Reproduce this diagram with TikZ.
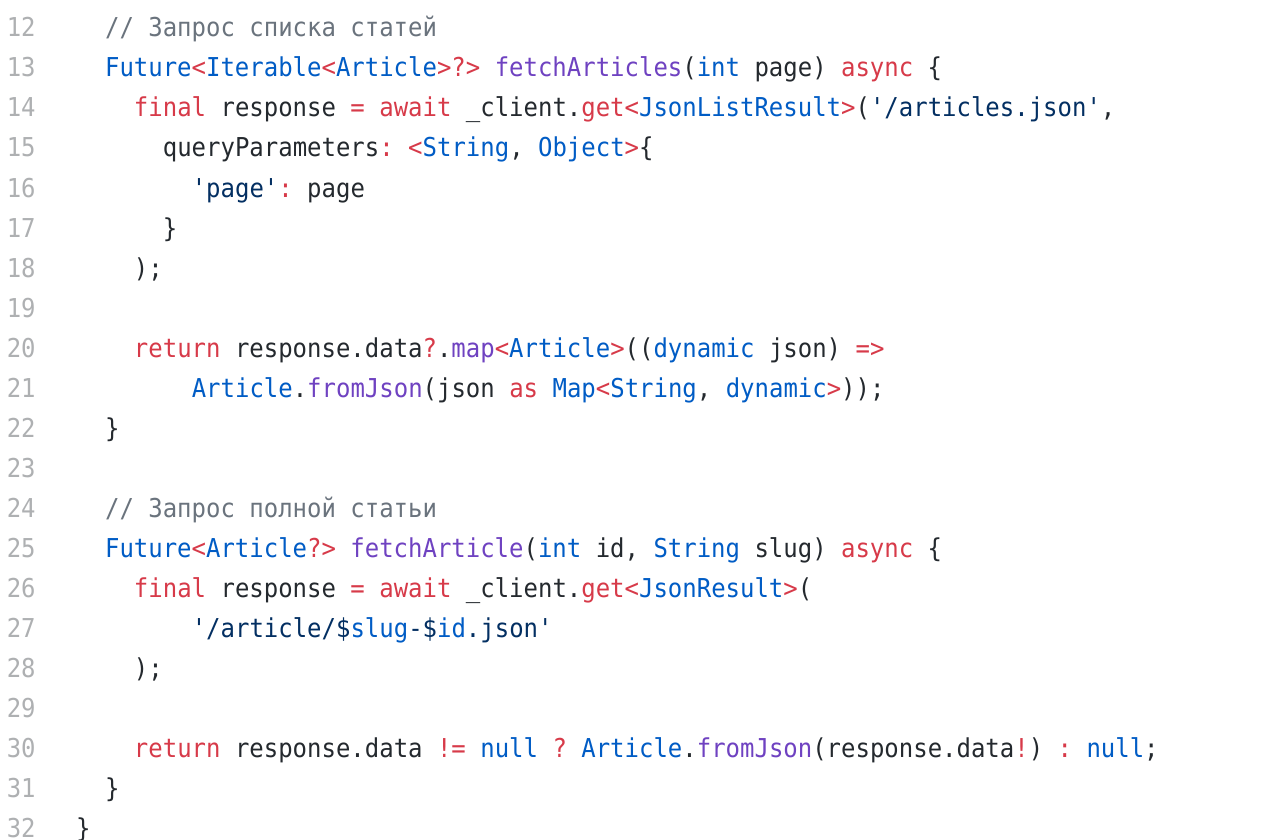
\documentclass[tikz,border=0pt]{standalone}
\usepackage{fontspec}
\newfontfamily\codefont{DejaVu Sans Mono}
\frenchspacing
\definecolor{codetext}{HTML}{24292E}
\definecolor{numgray}{HTML}{AEB0B2}
\definecolor{kwred}{HTML}{D73A49}
\definecolor{tyblue}{HTML}{005CC5}
\definecolor{fnpurple}{HTML}{6F42C1}
\definecolor{strnavy}{HTML}{032F62}
\definecolor{cmgray}{HTML}{6A737D}
\newcommand{\ckw}[1]{\textcolor{kwred}{#1}}
\newcommand{\cty}[1]{\textcolor{tyblue}{#1}}
\newcommand{\cfn}[1]{\textcolor{fnpurple}{#1}}
\newcommand{\cstr}[1]{\textcolor{strnavy}{#1}}
\newcommand{\ccm}[1]{\textcolor{cmgray}{#1}}

\begin{document}
\begin{tikzpicture}
        \fill[white] (0pt,0pt) rectangle (1270pt,-840pt);
        \useasboundingbox (0pt,0pt) rectangle (1270pt,-840pt);

        \begin{scope}[x=14.45pt, y=-40pt, shift={(76pt,-37pt)}]
        \begin{scope}[every node/.style={anchor=base east, inner sep=0pt, xscale=0.92,
            font=\codefont\fontsize{26}{30}\selectfont, text=numgray}]
            \foreach \n [count=\r from 0] in {12,...,32}
                \node (n\n) at (-2.78,\r) {\n};
        \end{scope}

        \begin{scope}[every node/.style={anchor=base west, inner sep=0pt, xscale=0.922,
            font=\codefont\fontsize{26}{30}\selectfont, text=codetext}]
            \node (c12) at (2,0) {\ccm{// Запрос списка статей}};
            \node (c13) at (2,1) {\cty{Future}\ckw{<}\cty{Iterable}\ckw{<}\cty{Article}\ckw{>?>} \cfn{fetchArticles}(\cty{int} page) \ckw{async} \{};
            \node (c14) at (4,2) {\ckw{final} response \ckw{=} \ckw{await} \_client.\ckw{get}\ckw{<}\cty{JsonListResult}\ckw{>}(\cstr{'/articles.json'},};
            \node (c15) at (6,3) {queryParameters\ckw{:} \ckw{<}\cty{String}, \cty{Object}\ckw{>}\{};
            \node (c16) at (8,4) {\cstr{'page'}\ckw{:} page};
            \node (c17) at (6,5) {\}};
            \node (c18) at (4,6) {);};
            \node (c20) at (4,8) {\ckw{return} response.data\ckw{?}.\cfn{map}\ckw{<}\cty{Article}\ckw{>}((\cty{dynamic} json) \ckw{=>}};
            \node (c21) at (8,9) {\cty{Article}.\cfn{fromJson}(json \ckw{as} \cty{Map}\ckw{<}\cty{String}, \cty{dynamic}\ckw{>}));};
            \node (c22) at (2,10) {\}};
            \node (c24) at (2,12) {\ccm{// Запрос полной статьи}};
            \node (c25) at (2,13) {\cty{Future}\ckw{<}\cty{Article}\ckw{?>} \cfn{fetchArticle}(\cty{int} id, \cty{String} slug) \ckw{async} \{};
            \node (c26) at (4,14) {\ckw{final} response \ckw{=} \ckw{await} \_client.\ckw{get}\ckw{<}\cty{JsonResult}\ckw{>}(};
            \node (c27) at (8,15) {\cstr{'/article/\$}\cty{slug}\cstr{-\$}\cty{id}\cstr{.json'}};
            \node (c28) at (4,16) {);};
            \node (c30) at (4,18) {\ckw{return} response.data \ckw{!=} \cty{null} \ckw{?} \cty{Article}.\cfn{fromJson}(response.data\ckw{!}) \ckw{:} \cty{null};};
            \node (c31) at (2,19) {\}};
            \node (c32) at (0,20) {\}};
        \end{scope}
        \end{scope}
    \end{tikzpicture}
\end{document}
